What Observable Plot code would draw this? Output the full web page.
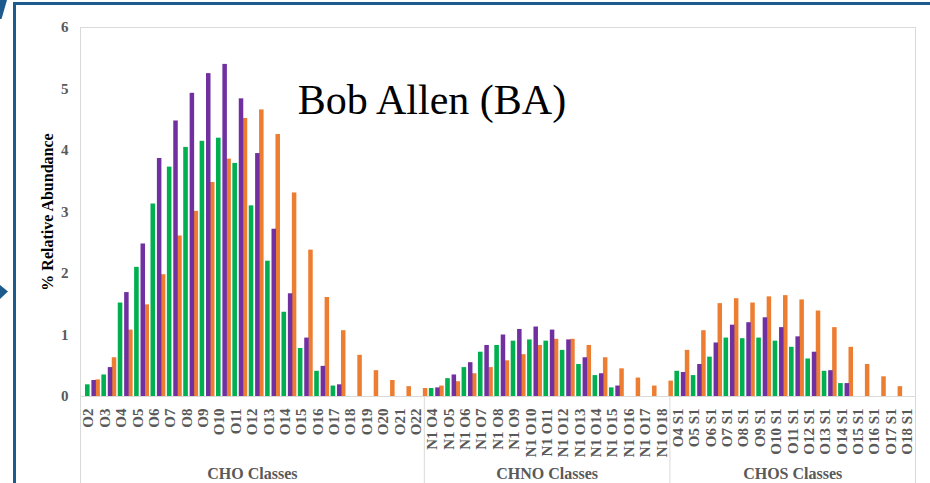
<!DOCTYPE html>
<html>
<head>
<meta charset="utf-8">
<script src="https://cdn.jsdelivr.net/npm/d3@7"></script>
<script src="https://cdn.jsdelivr.net/npm/@observablehq/plot@0.6"></script>
<style>
  body { margin: 0; background: #fff; }
  #wrap { position: relative; width: 930px; height: 483px; overflow: hidden; background: #fff; }
  #deco { position: absolute; left: 0; top: 0; pointer-events: none; }
</style>
</head>
<body>
<div id="wrap"></div>
<script>
// Category tick labels, one array per compound class
const choClasses = ["O2","O3","O4","O5","O6","O7","O8","O9","O10","O11","O12","O13","O14","O15","O16","O17","O18","O19","O20","O21","O22"];
const chnoClasses = ["N1 O4","N1 O5","N1 O6","N1 O7","N1 O8","N1 O9","N1 O10","N1 O11","N1 O12","N1 O13","N1 O14","N1 O15","N1 O16","N1 O17","N1 O18"];
const chosClasses = ["O4 S1","O5 S1","O6 S1","O7 S1","O8 S1","O9 S1","O10 S1","O11 S1","O12 S1","O13 S1","O14 S1","O15 S1","O16 S1","O17 S1","O18 S1"];
const groupNames = ["CHO Classes", "CHNO Classes", "CHOS Classes"];

// % relative abundance per class (CHO, then CHNO, then CHOS); null = not detected
const orangeSeries = [
  null, 0.27, 0.63, 1.08, 1.49, 1.98, 2.61, 3.01, 3.48, 3.86, 4.52, 4.66, 4.26, 3.31, 2.38, 1.61, 1.07, 0.67, 0.42, 0.26, 0.16,
  0.13, 0.17, 0.24, 0.37, 0.47, 0.58, 0.68, 0.83, 0.93, 0.93, 0.83, 0.63, 0.45, 0.30, 0.17,
  0.25, 0.75, 1.07, 1.51, 1.59, 1.52, 1.62, 1.64, 1.57, 1.39, 1.12, 0.80, 0.52, 0.32, 0.16
];
const greenSeries = [
  0.19, 0.35, 1.52, 2.10, 3.13, 3.73, 4.05, 4.15, 4.20, 3.79, 3.10, 2.20, 1.37, 0.78, 0.41, 0.17, null, null, null, null, null,
  0.13, 0.29, 0.47, 0.72, 0.83, 0.90, 0.92, 0.90, 0.75, 0.52, 0.34, 0.14, null, null, null,
  0.41, 0.34, 0.64, 0.95, 0.94, 0.95, 0.90, 0.80, 0.61, 0.41, 0.21, null, null, null, null
];
const purpleSeries = [
  0.26, 0.47, 1.69, 2.48, 3.87, 4.48, 4.93, 5.25, 5.40, 4.84, 3.95, 2.72, 1.67, 0.95, 0.49, 0.19, null, null, null, null, null,
  0.14, 0.35, 0.55, 0.83, 1.00, 1.09, 1.13, 1.08, 0.92, 0.63, 0.37, 0.17, null, null, null,
  0.39, 0.52, 0.87, 1.16, 1.20, 1.28, 1.12, 0.97, 0.72, 0.42, 0.21, null, null, null, null
];
const yTicks = [0, 1, 2, 3, 4, 5, 6];
const chartTitle = "Bob Allen (BA)";
const yTitle = "% Relative Abundance";

// Layout
const W = 930, H = 483;
const mL = 80, mR = 15, mT = 27, mB = 87;
const groups = [choClasses, chnoClasses, chosClasses];
const categories = groups.flat();
const bw = (W - mL - mR) / categories.length;
const frameH = H - mT - mB;
const serif = "'Liberation Serif', 'Times New Roman', Times, serif";
const gridGray = "#d9d9d9";
const labelGray = "#595959";

// Each series sits at a fixed slot inside its class band: orange, green, purple
const series = [
  {values: orangeSeries, fill: "#ED7D31", from: -1.0, to: 3.5},
  {values: greenSeries,  fill: "#00B050", from: 5.0,  to: 9.6},
  {values: purpleSeries, fill: "#7030A0", from: 11.4, to: 15.9}
];

const barMarks = series.map(s =>
  Plot.barY(
    categories.map((c, i) => ({cls: c, value: s.values[i]})).filter(d => d.value != null),
    {x: "cls", y: "value", fill: s.fill, insetLeft: s.from, insetRight: bw - s.to}
  )
);

const groupLabels = groups.map((g, i) => ({cls: g[Math.floor(g.length / 2)], name: groupNames[i]}));

const chart = Plot.plot({
  width: W,
  height: H,
  marginLeft: mL,
  marginRight: mR,
  marginTop: mT,
  marginBottom: mB,
  style: {background: "#fff", fontFamily: serif},
  x: {type: "band", domain: categories, padding: 0, round: false},
  y: {domain: [0, 6]},
  marks: [
    // plot-area outline, baseline and class separators
    Plot.ruleY([6], {stroke: gridGray, strokeWidth: 1}),
    Plot.ruleY([0], {stroke: gridGray, strokeWidth: 1}),
    Plot.ruleX([categories[0]], {dx: -bw / 2, stroke: gridGray, insetBottom: -mB}),
    Plot.ruleX([categories[categories.length - 1]], {dx: bw / 2, stroke: gridGray, insetBottom: -mB}),
    Plot.ruleX([chnoClasses[0], chosClasses[0]], {dx: -bw / 2, stroke: gridGray, insetTop: frameH, insetBottom: -mB}),
    ...barMarks,
    Plot.axisY({
      ticks: yTicks, tickFormat: d => String(d), tickSize: 0, tickPadding: 12, label: null,
      fontSize: 15, fontWeight: "bold", fontFamily: serif, fill: labelGray
    }),
    Plot.axisX({
      tickRotate: -90, tickSize: 0, tickPadding: 12, label: null,
      fontSize: 15, fontWeight: "bold", fontFamily: serif, fill: labelGray
    }),
    Plot.text(groupLabels, {
      x: "cls", text: "name", frameAnchor: "bottom", dy: mB - 5, lineAnchor: "bottom",
      fontSize: 16, fontWeight: "bold", fontFamily: serif, fill: labelGray
    }),
    Plot.text([yTitle], {
      text: d => d, frameAnchor: "left", textAnchor: "middle", dx: -33, rotate: -90,
      fontSize: 16, fontWeight: "bold", fontFamily: serif, fill: "#000"
    }),
    Plot.text([chartTitle], {
      text: d => d, frameAnchor: "top", dx: -66, dy: 86, lineAnchor: "bottom",
      fontSize: 42, fontWeight: "normal", fontFamily: serif, fill: "#000"
    })
  ]
});

const wrap = document.getElementById("wrap");
wrap.appendChild(chart);

// Slide framing around the chart: blue border, corner wedge and side pointer
const ns = "http://www.w3.org/2000/svg";
const deco = document.createElementNS(ns, "svg");
deco.setAttribute("id", "deco");
deco.setAttribute("width", W);
deco.setAttribute("height", H);
const blue = "#1d5a8e";
deco.innerHTML = `
  <path d="M14.5 ${H} V3.5 H${W}" fill="none" stroke="${blue}" stroke-width="3"/>
  <polygon points="0,0 7,0 1.5,19 0,19" fill="${blue}"/>
  <polygon points="0,285 8,291.5 0,299" fill="${blue}"/>
`;
wrap.appendChild(deco);
</script>
</body>
</html>
